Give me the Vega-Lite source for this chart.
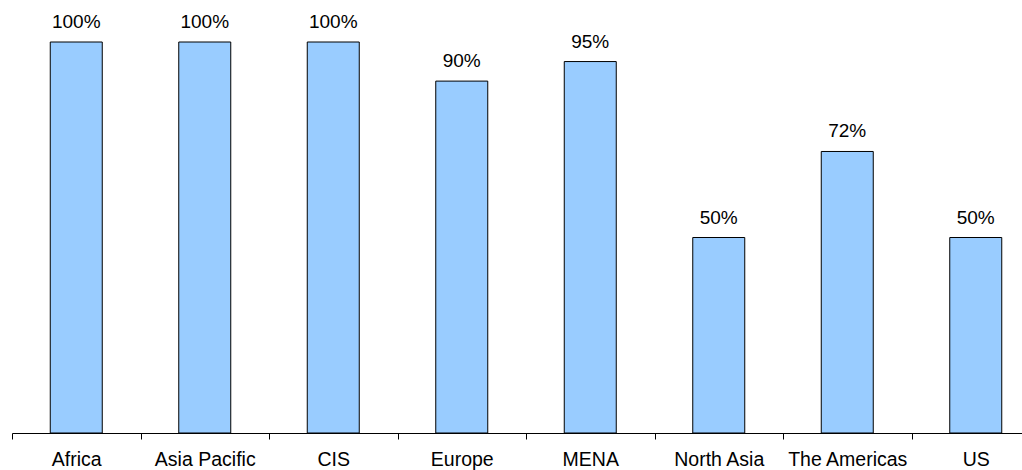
{
  "$schema": "https://vega.github.io/schema/vega-lite/v6.json",
  "width": 1028,
  "height": 391,
  "autosize": {"type": "none"},
  "padding": {"left": 12, "top": 42, "right": 0, "bottom": 37},
  "background": "white",
  "config": {"view": {"stroke": null}, "font": "Liberation Sans"},
  "data": {"values": [
    {"region": "Africa", "value": 1.00},
    {"region": "Asia Pacific", "value": 1.00},
    {"region": "CIS", "value": 1.00},
    {"region": "Europe", "value": 0.90},
    {"region": "MENA", "value": 0.95},
    {"region": "North Asia", "value": 0.50},
    {"region": "The Americas", "value": 0.72},
    {"region": "US", "value": 0.50}
  ]},
  "encoding": {
    "x": {"field": "region", "type": "nominal", "sort": null,
      "scale": {"paddingInner": 0, "paddingOuter": 0},
      "axis": {"title": null, "labelAngle": 0, "labelFont": "Liberation Sans", "labelFontSize": 19.5, "labelColor": "black", "domainColor": "black", "tickColor": "black", "tickSize": 6, "tickBand": "extent", "labelPadding": 11, "labelBaseline": "top"}},
    "y": {"field": "value", "type": "quantitative", "scale": {"domain": [0, 1]}, "axis": null}
  },
  "layer": [
    {"mark": {"type": "bar", "size": 52, "color": "#99CCFF", "stroke": "black", "strokeWidth": 1}},
    {"mark": {"type": "text", "baseline": "alphabetic", "dy": -14, "fontSize": 19, "font": "Liberation Sans", "color": "black"},
     "encoding": {"text": {"field": "value", "type": "quantitative", "format": ".0%"}}}
  ]
}
